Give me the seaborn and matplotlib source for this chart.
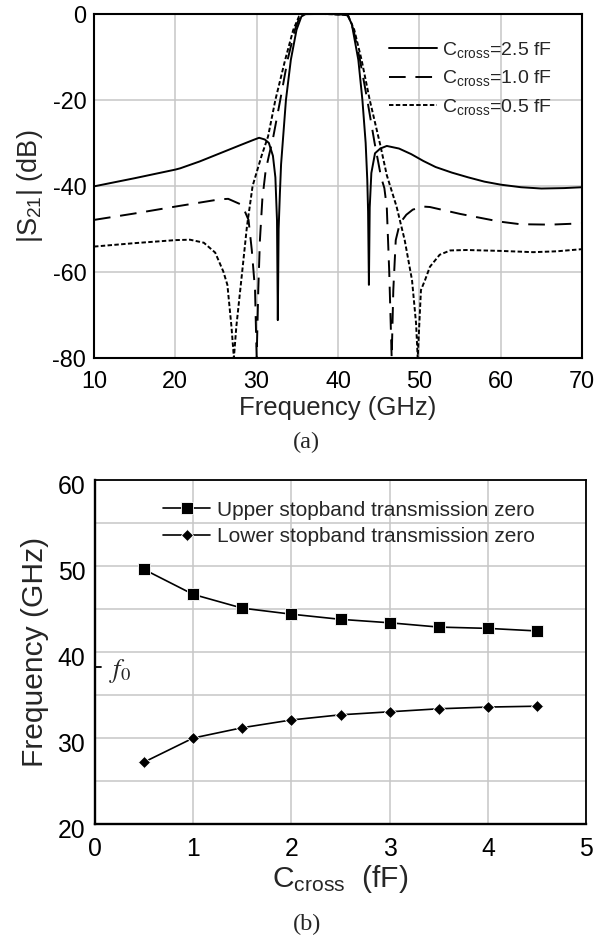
import numpy as np
import pandas as pd
import matplotlib
matplotlib.use("Agg")
import matplotlib.pyplot as plt
import matplotlib.transforms as mtransforms
import seaborn as sns

# ---------------- data: panel (a) ----------------
freq_25 = [10, 15, 20, 20.6, 23.0, 25.5, 28.0, 29.6, 30.3, 31.0, 31.5, 32.0, 32.3, 32.5, 32.6, 32.7, 32.85, 33.0,
           33.6, 34.2, 34.9, 35.5, 36.0, 38.0, 40.5, 41.2, 41.7, 42.5, 43.0, 43.4, 43.6, 43.7, 43.8,
           43.9, 44.1, 44.55, 45.2, 46.0, 47.5, 49.0, 50.5, 52.0, 54.0, 56.0, 58.0, 60.0, 62.5, 65.0, 67.8, 70.0]
s21_25 = [-40.1, -38.2, -36.2, -35.9, -34.3, -32.4, -30.5, -29.3, -28.8, -29.2, -30.0, -33.0, -38.0, -48.0, -71.2, -50.0, -42.0, -35.0,
          -20.0, -10.7, -3.7, -0.6, -0.05, 0.0, 0.0, -0.4, -2.4, -10.7, -20.0, -30.0, -38.6, -46.0, -63.0,
          -45.0, -37.0, -32.4, -31.3, -30.7, -31.3, -32.6, -34.2, -35.6, -36.9, -38.0, -39.0, -39.7, -40.3, -40.6, -40.5, -40.3]

freq_10 = [10, 15, 20, 25.5, 26.5, 27.7, 28.2, 29.0, 29.4, 29.8, 30.0, 30.2, 30.4, 30.7, 31.1, 31.5,
           32.0, 32.9, 33.8, 34.7, 35.3, 35.8, 38.0, 41.2, 41.9, 42.7, 43.6, 44.5, 45.3, 45.7, 46.0,
           46.3, 46.6, 46.8, 47.1, 47.6, 48.4, 49.2, 50.5, 51.3, 55.0, 59.9, 62.4, 66.1, 70.0]
s21_10 = [-47.9, -46.4, -44.8, -43.1, -43.0, -44.0, -44.4, -47.9, -54.9, -64.2, -80.0, -64.0, -52.6, -43.0, -36.5, -33.0,
          -29.0, -20.0, -10.7, -3.7, -0.6, 0.0, 0.0, -0.2, -3.7, -10.7, -20.0, -30.0, -38.0, -40.5, -45.0,
          -60.0, -80.0, -64.2, -52.6, -48.7, -46.7, -45.5, -44.8, -44.9, -46.5, -48.3, -48.9, -49.0, -48.7]

freq_05 = [10, 15, 20, 21.8, 23.5, 24.9, 25.9, 26.4, 26.9, 27.2, 27.5, 28.2, 28.8, 29.5, 30.6, 31.4,
           32.3, 33.5, 34.5, 35.2, 35.8, 38.0, 41.2, 42.0, 42.9, 43.9, 45.2, 46.0, 47.2, 48.2, 49.1,
           49.6, 49.8, 50.0, 50.2, 50.7, 51.3, 52.5, 53.8, 55.8, 59.9, 64.0, 66.9, 70.0]
s21_05 = [-54.1, -53.3, -52.6, -52.5, -53.2, -55.5, -59.9, -63.0, -72.7, -80.0, -72.7, -60.3, -49.5, -40.0, -33.0, -28.5,
          -20.0, -10.7, -3.7, -0.6, 0.0, 0.0, -0.2, -3.7, -10.7, -20.0, -30.5, -37.5, -44.8, -52.6, -61.9,
          -72.0, -80.0, -72.0, -64.2, -61.9, -58.8, -56.0, -55.0, -54.9, -55.1, -55.4, -55.2, -54.7]

labels_a = [r"C$_{\mathrm{cross}}$=2.5 fF", r"C$_{\mathrm{cross}}$=1.0 fF", r"C$_{\mathrm{cross}}$=0.5 fF"]
xticks_a = [10, 20, 30, 40, 50, 60, 70]
yticks_a = [0, -20, -40, -60, -80]

# ---------------- data: panel (b) ----------------
c_cross = [0.5, 1.0, 1.5, 2.0, 2.5, 3.0, 3.5, 4.0, 4.5]
upper_zero = [49.6, 46.7, 45.1, 44.4, 43.8, 43.4, 42.9, 42.75, 42.45]
lower_zero = [27.2, 30.0, 31.2, 32.1, 32.7, 33.05, 33.4, 33.6, 33.7]
labels_b = ["Upper stopband transmission zero", "Lower stopband transmission zero"]
f0 = 38.3
xticks_b = [0, 1, 2, 3, 4, 5]
yticks_b = [20, 30, 40, 50, 60]

# ---------------- style ----------------
sns.set_theme(style="whitegrid")
plt.rcParams["font.family"] = ["Liberation Sans", "DejaVu Sans"]
plt.rcParams["mathtext.fontset"] = "custom"
plt.rcParams["mathtext.rm"] = "Liberation Sans"
plt.rcParams["mathtext.it"] = "Liberation Sans:italic"
plt.rcParams["mathtext.bf"] = "Liberation Sans:bold"
plt.rcParams["axes.unicode_minus"] = False
plt.rcParams["lines.scale_dashes"] = False

GRID = "#c6c6c6"
fig = plt.figure(figsize=(6.1, 9.41), dpi=100)
fig.patch.set_facecolor("white")

# ---------------- panel (a) ----------------
ax1 = fig.add_axes([0.1541, 0.6196, 0.8, 0.3656])
curves = [(freq_25, s21_25, None), (freq_10, s21_10, (12, 7)), (freq_05, s21_05, (3.2, 1.7))]
for (f, s, d), lab in zip(curves, labels_a):
    df = pd.DataFrame({"f": f, "s": s})
    sns.lineplot(data=df, x="f", y="s", ax=ax1, color="black", lw=1.4,
                 estimator=None, sort=False, label=lab, legend=False)
    ln = ax1.lines[-1]
    if d is not None:
        ln.set_dashes(d)
    ln.set_dash_capstyle("butt")

ax1.set_xlim(10, 70)
ax1.set_ylim(-80, 0)
ax1.set_xticks(xticks_a)
ax1.set_yticks(yticks_a)
ax1.grid(True, color=GRID, lw=1.1)
ax1.tick_params(axis="both", length=0, labelsize=16.8, colors="black")
ax1.tick_params(axis="x", pad=8.6)
ax1.tick_params(axis="y", pad=5.5)
for sp in ax1.spines.values():
    sp.set_color("black")
    sp.set_linewidth(1.5)
ax1.set_xlabel("Frequency (GHz)", fontsize=18.5)
ax1.set_ylabel(r"|S$_{\mathrm{21}}$| (dB)", fontsize=19.5)
ax1.xaxis.label.set_va("center")
ax1.yaxis.label.set_va("center")
ax1.xaxis.set_label_coords(0.5, -0.145)
ax1.yaxis.set_label_coords(-0.131, 0.5)

h, l = ax1.get_legend_handles_labels()
ax1.legend(h, l, loc="upper left", bbox_to_anchor=(0.6045, 0.925), frameon=False,
           fontsize=14, handlelength=2.47, handletextpad=0.28, labelspacing=0.45,
           borderpad=0, borderaxespad=0)

fig.text(0.503, 1 - 442 / 941, "(a)", family="Liberation Serif", fontsize=17.5,
         ha="center", va="center")

# ---------------- panel (b) ----------------
ax2 = fig.add_axes([0.1557, 0.1243, 0.805, 0.3656])
dfb = pd.DataFrame({"c": c_cross, "up": upper_zero, "lo": lower_zero})
sns.lineplot(data=dfb, x="c", y="up", ax=ax2, color="black", lw=1.2, marker="s",
             markersize=8, markeredgewidth=0.6, estimator=None, label=labels_b[0], legend=False)
sns.lineplot(data=dfb, x="c", y="lo", ax=ax2, color="black", lw=1.2, marker="D",
             markersize=6.6, markeredgewidth=0.6, estimator=None, label=labels_b[1], legend=False)

ax2.set_xlim(0, 5)
ax2.set_ylim(20, 60)
ax2.set_xticks(xticks_b)
ax2.set_yticks(yticks_b)
ax2.set_yticks(np.arange(25, 60, 10), minor=True)
ax2.grid(True, which="both", color=GRID, lw=1.1)
ax2.tick_params(axis="both", which="both", length=0, labelsize=17.8, colors="black")
ax2.tick_params(axis="x", pad=9.5)
ax2.tick_params(axis="y", pad=7)
for sp in ax2.spines.values():
    sp.set_color("black")
    sp.set_linewidth(1.3)
ax2.spines["left"].set_linewidth(1.7)
ax2.spines["bottom"].set_linewidth(1.7)
ax2.set_xlabel(r"C$_{\mathrm{cross}}$  (fF)", fontsize=21.6)
ax2.set_ylabel("Frequency (GHz)", fontsize=21.6)
ax2.xaxis.label.set_va("center")
ax2.yaxis.label.set_va("center")
ax2.xaxis.set_label_coords(0.5, -0.16)
ax2.yaxis.set_label_coords(-0.122, 0.5)

# y tick labels of panel (b) sit slightly below their grid lines
off = mtransforms.ScaledTranslation(0, -4 / 100, fig.dpi_scale_trans)
for t in ax2.yaxis.get_major_ticks():
    t.label1.set_transform(t.label1.get_transform() + off)

# f0 marker
ax2.axhline(f0, xmin=0, xmax=0.013, color="black", lw=1.3)
ax2.text(0.14, f0 - 0.5, r"$f_0$", math_fontfamily="stix", fontsize=19,
         ha="left", va="center")

h2, l2 = ax2.get_legend_handles_labels()
ax2.legend(h2, l2, loc="upper left", bbox_to_anchor=(0.1385, 0.94), frameon=False,
           fontsize=15, handlelength=2.26, handletextpad=0.34, labelspacing=0.35,
           borderpad=0, borderaxespad=0)

fig.text(0.503, 1 - 924 / 941, "(b)", family="Liberation Serif", fontsize=17.5,
         ha="center", va="center")

fig.savefig("out.png", dpi=100, facecolor="white")
